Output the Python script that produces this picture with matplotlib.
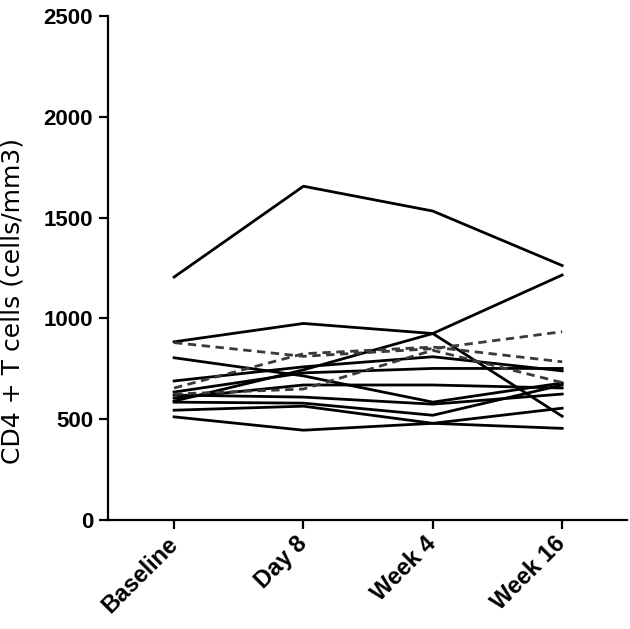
import matplotlib
matplotlib.use("Agg")
import matplotlib.pyplot as plt

timepoints = ["Baseline", "Day 8", "Week 4", "Week 16"]

solid_series = [
    [1205, 1655, 1532, 1262],
    [884, 975, 925, 515],
    [590, 745, 925, 1215],
    [805, 715, 585, 680],
    [690, 760, 810, 740],
    [635, 730, 752, 752],
    [605, 670, 670, 655],
    [620, 610, 575, 625],
    [585, 580, 520, 670],
    [545, 565, 480, 555],
    [512, 446, 480, 455],
]

dashed_series = [
    [880, 812, 850, 934],
    [655, 825, 858, 785],
    [625, 650, 842, 682],
]

yticks = [0, 500, 1000, 1500, 2000, 2500]

plt.rcParams['font.family'] = ['Liberation Sans', 'DejaVu Sans']

fig = plt.figure(figsize=(6.30, 6.29), dpi=100)
ax = fig.add_axes([0.171, 0.173, 0.824, 0.802])

x = list(range(len(timepoints)))
for s in solid_series:
    ax.plot(x, s, color='black', lw=2.0)
for s in dashed_series:
    ax.plot(x, s, color='#3a3a3a', lw=2.0, linestyle=(0, (3, 2)))

ax.set_xlim(-0.513, 3.5)
ax.set_ylim(0, 2500)
ax.set_yticks(yticks)
ax.set_yticklabels([str(v) for v in yticks], fontsize=16, fontweight='bold')
ax.set_xticks(x)
ax.set_xticklabels(timepoints, fontsize=17, fontweight='bold', rotation=45,
                   ha='right', va='center', rotation_mode='anchor')

for side in ['top', 'right']:
    ax.spines[side].set_visible(False)
for side in ['left', 'bottom']:
    ax.spines[side].set_linewidth(1.6)
ax.tick_params(axis='both', width=1.6, length=6.5, direction='out')
ax.tick_params(axis='y', pad=4)
ax.tick_params(axis='x', pad=8)

ax.set_ylabel("CD4 + T cells (cells/mm3)", fontsize=18,
              family=['DejaVu Sans'])
ax.yaxis.set_label_coords(-0.160, 0.435)

fig.savefig("out.png", dpi=100)
